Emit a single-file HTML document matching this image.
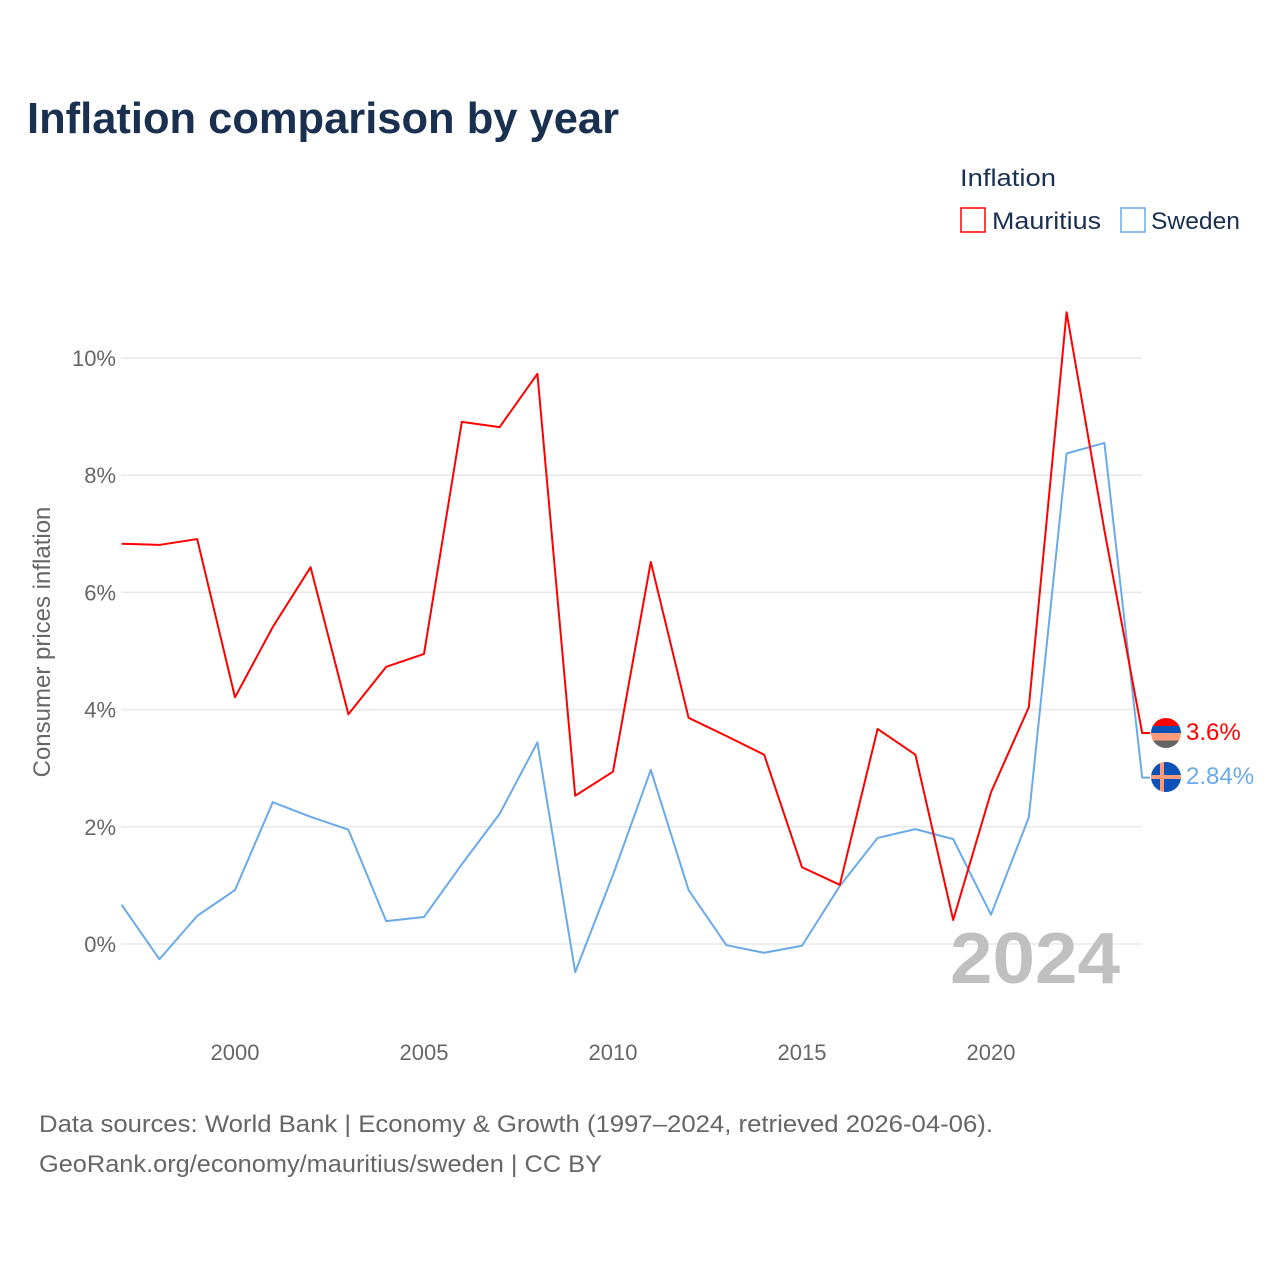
<!DOCTYPE html>
<html><head><meta charset="utf-8"><style>
body{margin:0;background:#fff;font-family:"Liberation Sans",sans-serif}
svg{display:block}
</style></head><body>
<svg id="chart" width="1280" height="1280" viewBox="0 0 1280 1280">
<text x="27" y="133" font-size="44" font-weight="bold" fill="#1a3050" textLength="592" lengthAdjust="spacingAndGlyphs">Inflation comparison by year</text>
<text x="960" y="186" font-size="24" fill="#1a3050" textLength="96" lengthAdjust="spacingAndGlyphs">Inflation</text>
<g><rect x="961" y="208" width="24" height="24" fill="none" stroke="#ff0000" stroke-width="1.5"/><text x="992" y="229" font-size="24" fill="#1a3050" textLength="109" lengthAdjust="spacingAndGlyphs">Mauritius</text></g>
<g><rect x="1121" y="208" width="24" height="24" fill="none" stroke="#6aaae8" stroke-width="1.5"/><text x="1151" y="229" font-size="24" fill="#1a3050" textLength="89" lengthAdjust="spacingAndGlyphs">Sweden</text></g>
<text transform="translate(50,642) rotate(-90)" text-anchor="middle" font-size="24" fill="#666">Consumer prices inflation</text>
<g id="grid"></g>
<g id="yticks"></g>
<g id="xticks"></g>
<text x="950" y="983" font-size="72" font-weight="bold" fill="#c0c0c0" textLength="170" lengthAdjust="spacingAndGlyphs">2024</text>
<g id="lines"></g>
<g>
<clipPath id="c1"><circle cx="1166" cy="733" r="15"/></clipPath>
<g clip-path="url(#c1)"><rect x="1150" y="718" width="32" height="8" fill="#ff0000"/><rect x="1150" y="726" width="32" height="7.5" fill="#0a52b8"/><rect x="1150" y="733" width="32" height="7.5" fill="#ff9b7a"/><rect x="1150" y="740.5" width="32" height="8" fill="#666"/></g></g>
<g>
<clipPath id="c2"><circle cx="1166" cy="777" r="15"/></clipPath>
<g clip-path="url(#c2)"><rect x="1150" y="762" width="32" height="30" fill="#0a52b8"/><rect x="1160" y="762" width="4" height="30" fill="#ff9b7a"/><rect x="1150" y="775" width="32" height="4" fill="#ff9b7a"/></g></g>
<text x="1186" y="740" font-size="24" fill="#ff0000">3.6%</text>
<text x="1186" y="784" font-size="24" fill="#6aaae8">2.84%</text>
<text x="39" y="1132" font-size="24" fill="#666" textLength="954" lengthAdjust="spacingAndGlyphs">Data sources: World Bank | Economy &amp; Growth (1997–2024, retrieved 2026-04-06).</text>
<text x="39" y="1172" font-size="24" fill="#666" textLength="563" lengthAdjust="spacingAndGlyphs">GeoRank.org/economy/mauritius/sweden | CC BY</text>
</svg>
<script>
const years=[1997,1998,1999,2000,2001,2002,2003,2004,2005,2006,2007,2008,2009,2010,2011,2012,2013,2014,2015,2016,2017,2018,2019,2020,2021,2022,2023,2024];
const mauritius=[6.83,6.81,6.91,4.21,5.41,6.43,3.92,4.73,4.95,8.91,8.82,9.73,2.53,2.94,6.52,3.86,3.55,3.23,1.31,1.01,3.67,3.23,0.41,2.59,4.04,10.78,7.06,3.6];
const sweden=[0.67,-0.26,0.48,0.92,2.42,2.17,1.95,0.39,0.46,1.36,2.22,3.44,-0.48,1.18,2.97,0.92,-0.02,-0.15,-0.03,0.99,1.81,1.96,1.79,0.50,2.16,8.37,8.55,2.84];
const yTicks=[0,2,4,6,8,10];
const xTicks=[2000,2005,2010,2015,2020];
const NS="http://www.w3.org/2000/svg";
const x=v=>121.6+(v-1997)*37.8;
const y=v=>944-v*58.6;
function mk(t,a,p){const e=document.createElementNS(NS,t);for(const k in a)e.setAttribute(k,a[k]);p.appendChild(e);return e;}
const grid=document.getElementById('grid'),yt=document.getElementById('yticks'),xt=document.getElementById('xticks'),ln=document.getElementById('lines');
yTicks.forEach(v=>{
 const l=mk('line',{x1:121,x2:1142,y1:y(v),y2:y(v),stroke:'#e8e8e8','stroke-width':1.5},grid);
 
 
 const t=mk('text',{x:116,y:y(v)+8,'text-anchor':'end','font-size':22,fill:'#666'},yt);
 t.textContent=v+'%';
 
 
});
xTicks.forEach(v=>{
 const t=mk('text',{x:x(v),y:1060,'text-anchor':'middle','font-size':22,fill:'#666'},xt);
 t.textContent=v;
 
 
});
function line(d,c,n){
 let pts=d.map((v,i)=>x(years[i])+','+y(v));
 pts.push((x(years[years.length-1])+8)+','+y(d[d.length-1]));
 const p=mk('polyline',{points:pts.join(' '),fill:'none',stroke:c,'stroke-width':2,'stroke-linejoin':'round'},ln);
 
 
}
line(sweden,'#6aaae8','sweden-line');
line(mauritius,'#ff0000','mauritius-line');
</script>
</body></html>
